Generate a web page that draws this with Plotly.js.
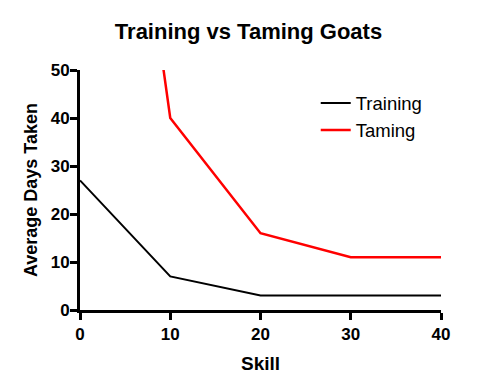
<!DOCTYPE html>
<html>
<head>
<meta charset="utf-8">
<script src="https://cdn.plot.ly/plotly-3.0.1.min.js"></script>
<style>html,body{margin:0;padding:0;background:#fff;}#chart{width:497px;height:392px;}</style>
</head>
<body>
<div id="chart"></div>
<script>
const skill = [0, 10, 20, 30, 40];
const trainingDays = [27, 7, 3, 3, 3];
const tamingDays = [175, 40, 16, 11, 11];
const seriesNames = ["Training", "Taming"];
const chartTitle = "Training vs Taming Goats";
const xTitle = "Skill";
const yTitle = "Average Days Taken";

const font = "Liberation Sans, Arial, sans-serif";

const traces = [
  {x: skill, y: trainingDays, name: seriesNames[0], mode: "lines", line: {color: "#000000", width: 2}},
  {x: skill, y: tamingDays, name: seriesNames[1], mode: "lines", line: {color: "#ff0000", width: 2.5}}
];

const axisCommon = {
  showline: true, linewidth: 3, linecolor: "#000",
  showgrid: false, zeroline: false,
  ticks: "outside", ticklen: 7, tickwidth: 3, tickcolor: "#000",
  tickfont: {family: font, size: 17, color: "#000", weight: "bold"}
};

const layout = {
  width: 497, height: 392,
  margin: {l: 80, r: 56, t: 70, b: 82},
  paper_bgcolor: "#fff", plot_bgcolor: "#fff",
  title: {text: chartTitle, font: {family: font, size: 22, color: "#000", weight: "bold"}, x: 0.5, xanchor: "center", y: 0.92, yanchor: "middle"},
  xaxis: Object.assign({}, axisCommon, {range: [0, 40], tickvals: [0, 10, 20, 30, 40],
    title: {text: xTitle, font: {family: font, size: 19, color: "#000", weight: "bold"}, standoff: 14}}),
  yaxis: Object.assign({}, axisCommon, {range: [0, 50], tickvals: [0, 10, 20, 30, 40, 50], ticklabelstandoff: -3,
    title: {text: yTitle, font: {family: font, size: 18, color: "#000", weight: "bold"}, standoff: 9}}),
  showlegend: true,
  legend: {x: 0.653, y: 0.94, xanchor: "left", yanchor: "top", bgcolor: "rgba(0,0,0,0)",
    font: {family: font, size: 18.5, color: "#000"}, tracegroupgap: 0, itemwidth: 30}
};

Plotly.newPlot("chart", traces, layout, {displayModeBar: false, staticPlot: true});
</script>
</body>
</html>
